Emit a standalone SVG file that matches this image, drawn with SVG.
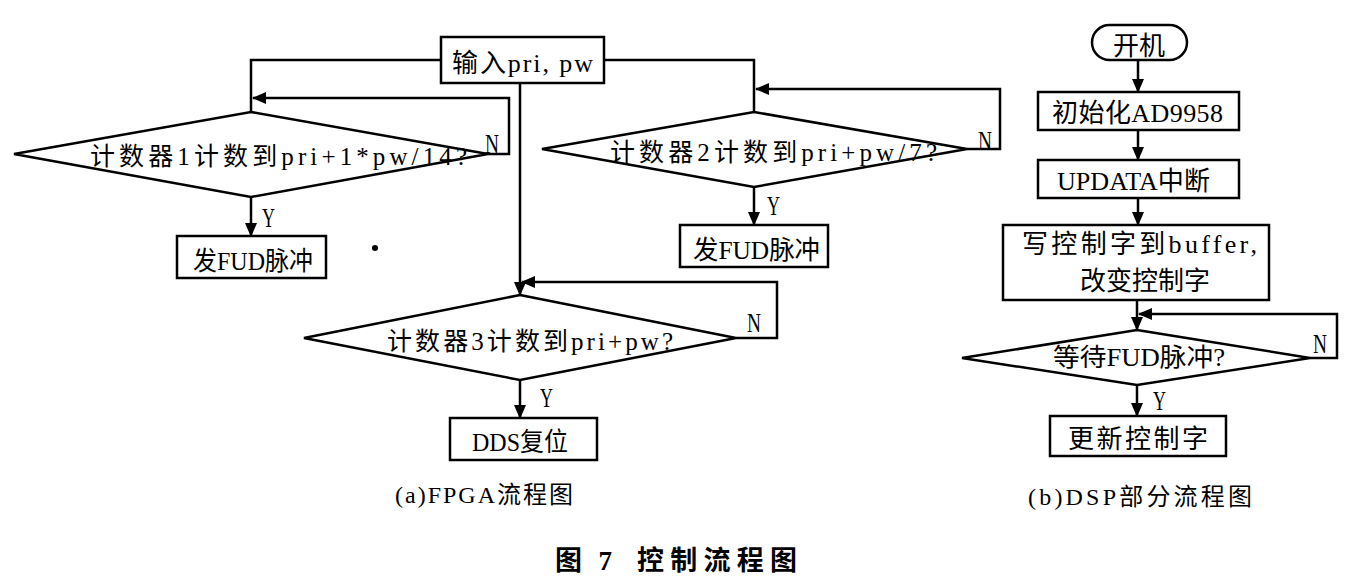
<svg xmlns="http://www.w3.org/2000/svg" width="1358" height="580" viewBox="0 0 1358 580">
<defs>
<style>
.bx{fill:#fff;stroke:#000;stroke-width:2.5}
.ln{fill:none;stroke:#000;stroke-width:2.5}
.t{font-family:"Liberation Serif","Noto Sans CJK SC",serif;font-size:26px;fill:#000}
.d{font-family:"Liberation Serif","Noto Sans CJK SC",serif;font-size:25px;fill:#000}
.yn{font-family:"Liberation Serif",serif;font-size:28px;fill:#000}
.cap{font-family:"Liberation Serif","Noto Sans CJK SC",serif;font-size:24px;fill:#000}
.ttl{font-family:"Liberation Serif","Noto Sans CJK SC",serif;font-size:27px;font-weight:bold;fill:#000}
</style>
<marker id="ah" markerUnits="userSpaceOnUse" markerWidth="14" markerHeight="12" refX="13" refY="6" orient="auto">
<path d="M0,0 L14,6 L0,12 z" fill="#000"/>
</marker>
</defs>

<g id="connectors">
<path class="ln" d="M441,60 H251 V112"/>
<path class="ln" d="M488,154 H509 V98 H253" marker-end="url(#ah)"/>
<path class="ln" d="M251,197 V236" marker-end="url(#ah)"/>
<path class="ln" d="M604,60 H754 V112"/>
<path class="ln" d="M967,149 H1000 V89 H756" marker-end="url(#ah)"/>
<path class="ln" d="M754,187 V225" marker-end="url(#ah)"/>
<path class="ln" d="M520,83 V295" marker-end="url(#ah)"/>
<path class="ln" d="M736,338 H777 V282 H522" marker-end="url(#ah)"/>
<path class="ln" d="M520,380 V418" marker-end="url(#ah)"/>
<path class="ln" d="M1138,60 V92" marker-end="url(#ah)"/>
<path class="ln" d="M1138,130 V160" marker-end="url(#ah)"/>
<path class="ln" d="M1138,198 V225" marker-end="url(#ah)"/>
<path class="ln" d="M1137,300 V330" marker-end="url(#ah)"/>
<path class="ln" d="M1310,358 H1337 V314 H1139" marker-end="url(#ah)"/>
<path class="ln" d="M1137,385 V416" marker-end="url(#ah)"/>
<text class="yn" x="485" y="153" textLength="14" lengthAdjust="spacingAndGlyphs">N</text>
<text class="yn" x="262" y="227" textLength="13" lengthAdjust="spacingAndGlyphs">Y</text>
<text class="yn" x="978" y="150" textLength="14" lengthAdjust="spacingAndGlyphs">N</text>
<text class="yn" x="767" y="215" textLength="13" lengthAdjust="spacingAndGlyphs">Y</text>
<text class="yn" x="747" y="332" textLength="14" lengthAdjust="spacingAndGlyphs">N</text>
<text class="yn" x="540" y="407" textLength="13" lengthAdjust="spacingAndGlyphs">Y</text>
<text class="yn" x="1313" y="353" textLength="14" lengthAdjust="spacingAndGlyphs">N</text>
<text class="yn" x="1153" y="410" textLength="13" lengthAdjust="spacingAndGlyphs">Y</text>
</g>

<g id="input">
<rect class="bx" x="441" y="37" width="163" height="46"/>
<text class="t" x="452" y="72" textLength="141">输入pri, pw</text>
</g>
<g id="cond1">
<polygon class="bx" points="251,112 488,154 251,197 14,154"/>
<text class="d" x="90" y="165" textLength="377">计数器1计数到pri+1*pw/14?</text>
</g>
<g id="fud1">
<rect class="bx" x="177" y="236" width="149" height="42"/>
<text class="t" x="193" y="270" textLength="120" lengthAdjust="spacingAndGlyphs">发FUD脉冲</text>
</g>
<g id="cond2">
<polygon class="bx" points="754,112 967,149 754,187 542,149"/>
<text class="d" x="610" y="161" textLength="327">计数器2计数到pri+pw/7?</text>
</g>
<g id="fud2">
<rect class="bx" x="680" y="225" width="148" height="42"/>
<text class="t" x="693" y="259" textLength="127" lengthAdjust="spacingAndGlyphs">发FUD脉冲</text>
</g>
<g id="cond3">
<polygon class="bx" points="520,295 736,338 520,380 304,338"/>
<text class="d" x="387" y="350" textLength="286">计数器3计数到pri+pw?</text>
</g>
<g id="ddsreset">
<rect class="bx" x="450" y="418" width="147" height="42"/>
<text class="t" x="472" y="451" textLength="96" lengthAdjust="spacingAndGlyphs">DDS复位</text>
</g>
<g id="dot">
<circle cx="375" cy="248" r="3" fill="#000"/>
</g>

<g id="start">
<rect class="bx" x="1092" y="25" width="95" height="35" rx="17.5" ry="17.5"/>
<text class="t" x="1113" y="55" textLength="52">开机</text>
</g>
<g id="init">
<rect class="bx" x="1038" y="92" width="201" height="38"/>
<text class="t" x="1052" y="122" textLength="171">初始化AD9958</text>
</g>
<g id="updata">
<rect class="bx" x="1038" y="160" width="201" height="38"/>
<text class="t" x="1057" y="190" textLength="153" lengthAdjust="spacingAndGlyphs">UPDATA中断</text>
</g>
<g id="write">
<rect class="bx" x="1003" y="225" width="266" height="75"/>
<text class="t" x="1022" y="253" textLength="235">写控制字到buffer,</text>
<text class="t" x="1080" y="290" textLength="130">改变控制字</text>
</g>
<g id="wait">
<polygon class="bx" points="1137,330 1310,358 1137,385 962,358"/>
<text class="d" x="1053" y="366" textLength="172" lengthAdjust="spacingAndGlyphs">等待FUD脉冲?</text>
</g>
<g id="update">
<rect class="bx" x="1050" y="416" width="176" height="40"/>
<text class="t" x="1068" y="448" textLength="140">更新控制字</text>
</g>

<g id="captions">
<text class="cap" x="395" y="503" textLength="178">(a)FPGA流程图</text>
<text class="cap" x="1028" y="505" textLength="224">(b)DSP部分流程图</text>
<text class="ttl" x="555" y="570" textLength="57">图 7</text>
<text class="ttl" x="637" y="570" textLength="160">控制流程图</text>
</g>
</svg>
